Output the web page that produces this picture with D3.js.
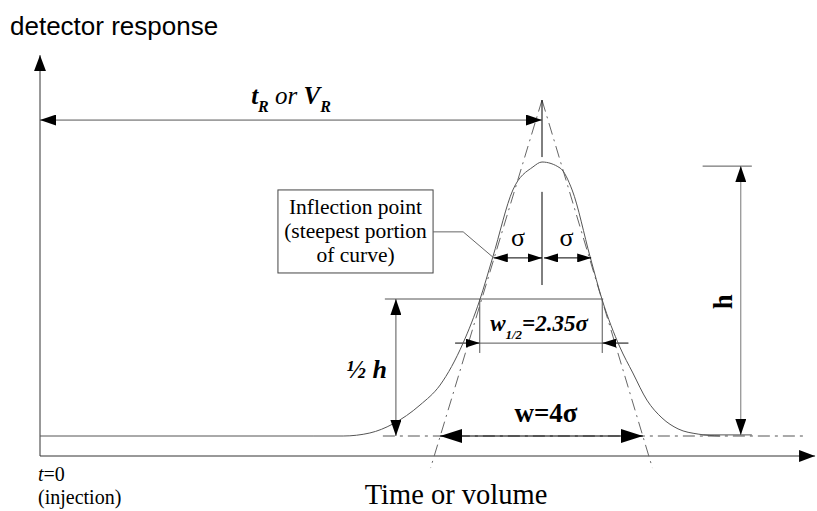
<!DOCTYPE html>
<html>
<head>
<meta charset="utf-8">
<script src="https://cdn.jsdelivr.net/npm/d3@7"></script>
<style>
  body { margin: 0; background: #fff; }
  text { fill: #000; }
</style>
</head>
<body>
<div id="chart"></div>
<script>
const width = 817;
const height = 511;

// peak profile: time (sigma units, tR = 10) and response (fraction of h)
const curveT = [0, 5.44, 6.04, 6.57, 7.03, 7.57, 7.97, 8.43, 8.76, 9.02, 9.42, 9.82, 10, 10.36, 10.6, 10.96, 11.2, 11.55, 11.81, 12.09, 12.39, 12.71, 13.11, 13.55];
const curveR = [0, 0, 0, 0.011, 0.044, 0.113, 0.186, 0.34, 0.496, 0.653, 0.898, 0.982, 1, 0.978, 0.898, 0.653, 0.496, 0.325, 0.23, 0.131, 0.066, 0.026, 0.007, 0];

// annotation values
const retentionT = [0, 10];
const retentionLevel = 1.153;
const sigmaT = [9.04, 10, 10.98];
const sigmaLevel = 0.65;
const halfWidthT = [8.76, 11.2];
const halfWidthArrowT = [8.27, 11.72];
const halfWidthLevels = [0.5, 0.303, 0.339];
const halfLineT = [6.87, 11.22];
const halfHeightT = 7.09;
const baseWidthT = [7.97, 12.01];
const baselineT = [6.83, 15.24];
const heightT = 13.96;
const heightTickT = [13.2, 14.18];
const heightR = [0.004, 0.985];
const tangentLeft = [[10, 1.226], [7.78, -0.117]];
const tangentRight = [[10, 1.226], [12.2, -0.117]];
const centerSegments = [[1.226, 1.018], [0.891, 0.551]];
const axisT = [0, 15.44];
const axisR = [-0.073, 1.39];
const boxT = [4.74, 7.83];
const boxR = [0.595, 0.898];
const leader = [[7.83, 0.745], [8.43, 0.745], [9.04, 0.65]];
const boxLines = ['Inflection point', '(steepest portion', 'of curve)'];

const x = d3.scaleLinear().domain([0, 10]).range([40, 542]);
const y = d3.scaleLinear().domain([0, 1]).range([436, 162]);

const svg = d3.select('#chart')
  .append('svg')
  .attr('width', width)
  .attr('height', height);

const defs = svg.append('defs');
function marker(id, len, wid) {
  defs.append('marker')
    .attr('id', id)
    .attr('viewBox', '0 0 10 10')
    .attr('refX', 10)
    .attr('refY', 5)
    .attr('markerUnits', 'userSpaceOnUse')
    .attr('markerWidth', len)
    .attr('markerHeight', wid)
    .attr('preserveAspectRatio', 'none')
    .attr('orient', 'auto-start-reverse')
    .append('path')
    .attr('d', 'M0,0L10,5L0,10Z')
    .attr('fill', '#000');
}
marker('big', 22, 14);
marker('mid', 16, 11);
marker('small', 14, 9);
marker('axis', 16, 12);

const serif = 'Liberation Serif, Times New Roman, serif';
const line = (x1, y1, x2, y2, color, w) => svg.append('line')
  .attr('x1', x1).attr('y1', y1).attr('x2', x2).attr('y2', y2)
  .attr('stroke', color).attr('stroke-width', w || 1);

// axes
line(x(axisT[0]), y(axisR[0]), x(axisT[0]), y(axisR[1]), '#333').attr('marker-end', 'url(#axis)');
line(x(axisT[0]), y(axisR[0]), x(axisT[1]), y(axisR[0]), '#333').attr('marker-end', 'url(#axis)');

// baseline extension (dash-dot)
line(x(baselineT[0]), y(0), x(baselineT[1]), y(0), '#555').attr('stroke-dasharray', '12,5,3,5');

// tangents
const pathLine = d3.line().x(d => x(d[0])).y(d => y(d[1]));
[tangentLeft, tangentRight].forEach(seg => {
  svg.append('path')
    .attr('d', pathLine(seg))
    .attr('fill', 'none')
    .attr('stroke', '#666')
    .attr('stroke-dasharray', '12,5,2,5');
});

// peak
svg.append('path')
  .datum(d3.zip(curveT, curveR))
  .attr('d', d3.line().x(d => x(d[0])).y(d => y(d[1])).curve(d3.curveMonotoneX))
  .attr('fill', 'none')
  .attr('stroke', '#555')
  .attr('stroke-width', 1);

// center line
centerSegments.forEach(s => line(x(10), y(s[0]), x(10), y(s[1]), '#000'));

// retention arrow
line(x(retentionT[0]), y(retentionLevel), x(retentionT[1]), y(retentionLevel), '#555')
  .attr('marker-start', 'url(#mid)').attr('marker-end', 'url(#mid)');
const tr = svg.append('text')
  .attr('x', 291).attr('y', 104)
  .attr('text-anchor', 'middle')
  .attr('font-family', serif)
  .attr('font-size', 25);
tr.append('tspan').attr('font-weight', 'bold').attr('font-style', 'italic').text('t');
tr.append('tspan').attr('font-weight', 'bold').attr('font-style', 'italic').attr('font-size', 16).attr('dy', 8).text('R');
tr.append('tspan').attr('font-style', 'italic').attr('dy', -8).text(' or ');
tr.append('tspan').attr('font-weight', 'bold').attr('font-style', 'italic').text('V');
tr.append('tspan').attr('font-weight', 'bold').attr('font-style', 'italic').attr('font-size', 16).attr('dy', 8).text('R');

// sigma arrows
line(x(sigmaT[0]), y(sigmaLevel), x(sigmaT[1]), y(sigmaLevel), '#000')
  .attr('marker-start', 'url(#small)').attr('marker-end', 'url(#small)');
line(x(sigmaT[1]) + 2, y(sigmaLevel), x(sigmaT[2]), y(sigmaLevel), '#000')
  .attr('marker-start', 'url(#small)').attr('marker-end', 'url(#small)');
[0, 1].forEach(i => svg.append('text')
  .attr('x', (x(sigmaT[i]) + x(sigmaT[i + 1])) / 2)
  .attr('y', y(sigmaLevel) - 12)
  .attr('text-anchor', 'middle')
  .attr('font-family', serif)
  .attr('font-size', 26)
  .text('σ'));

// inflection point box
svg.append('rect')
  .attr('x', x(boxT[0])).attr('y', y(boxR[1]))
  .attr('width', x(boxT[1]) - x(boxT[0]))
  .attr('height', y(boxR[0]) - y(boxR[1]))
  .attr('fill', '#fff').attr('stroke', '#444');
boxLines.forEach((t, i) => svg.append('text')
  .attr('x', (x(boxT[0]) + x(boxT[1])) / 2)
  .attr('y', y(boxR[1]) + 24 + i * 24)
  .attr('text-anchor', 'middle')
  .attr('font-family', serif)
  .attr('font-size', 21.5)
  .text(t));
svg.append('path')
  .attr('d', pathLine(leader))
  .attr('fill', 'none').attr('stroke', '#666');

// half height line and w1/2
line(x(halfLineT[0]), y(halfWidthLevels[0]), x(halfLineT[1]), y(halfWidthLevels[0]), '#555');
halfWidthT.forEach(t => line(x(t), y(halfWidthLevels[0]), x(t), y(halfWidthLevels[1]), '#555'));
line(x(halfWidthArrowT[0]), y(halfWidthLevels[2]), x(halfWidthArrowT[1]), y(halfWidthLevels[2]), '#555');
line(x(halfWidthArrowT[0]), y(halfWidthLevels[2]), x(halfWidthT[0]), y(halfWidthLevels[2]), '#555').attr('marker-end', 'url(#small)');
line(x(halfWidthArrowT[1]), y(halfWidthLevels[2]), x(halfWidthT[1]), y(halfWidthLevels[2]), '#555').attr('marker-end', 'url(#small)');
const wh = svg.append('text')
  .attr('x', (x(halfWidthT[0]) + x(halfWidthT[1])) / 2 - 2)
  .attr('y', 331)
  .attr('text-anchor', 'middle')
  .attr('font-family', serif)
  .attr('font-weight', 'bold')
  .attr('font-style', 'italic')
  .attr('font-size', 23);
wh.append('tspan').text('w');
wh.append('tspan').attr('font-size', 13).attr('dy', 8).text('1/2');
wh.append('tspan').attr('dy', -8).text('=2.35σ');

// half height arrow
line(x(halfHeightT), y(0.5), x(halfHeightT), y(0), '#555')
  .attr('marker-start', 'url(#mid)').attr('marker-end', 'url(#mid)');
svg.append('text')
  .attr('x', x(halfHeightT) - 9).attr('y', 378)
  .attr('text-anchor', 'end')
  .attr('font-family', serif)
  .attr('font-weight', 'bold')
  .attr('font-style', 'italic')
  .attr('font-size', 26)
  .text('½ h');

// base width arrow
line(x(baseWidthT[0]), y(0), x(baseWidthT[1]), y(0), '#000')
  .attr('marker-start', 'url(#big)').attr('marker-end', 'url(#big)');
svg.append('text')
  .attr('x', 546).attr('y', 422)
  .attr('text-anchor', 'middle')
  .attr('font-family', serif)
  .attr('font-weight', 'bold')
  .attr('font-size', 27)
  .text('w=4σ');

// height arrow
heightR.forEach(r => line(x(heightTickT[0]), y(r), x(heightTickT[1]), y(r), '#555'));
line(x(heightT), y(heightR[0]), x(heightT), y(heightR[1]), '#777')
  .attr('marker-start', 'url(#mid)').attr('marker-end', 'url(#mid)');
svg.append('text')
  .attr('transform', `translate(${x(heightT) - 9},${y(0.49)}) rotate(-90)`)
  .attr('text-anchor', 'middle')
  .attr('font-family', serif)
  .attr('font-weight', 'bold')
  .attr('font-size', 27)
  .text('h');

// axis labels
svg.append('text')
  .attr('x', 10).attr('y', 35)
  .attr('font-family', 'Liberation Sans, Arial, sans-serif')
  .attr('font-size', 26)
  .text('detector response');
const t0 = svg.append('text')
  .attr('x', 38).attr('y', 481)
  .attr('font-family', serif)
  .attr('font-size', 20);
t0.append('tspan').attr('font-style', 'italic').text('t');
t0.append('tspan').text('=0');
svg.append('text')
  .attr('x', 38).attr('y', 504)
  .attr('font-family', serif)
  .attr('font-size', 20)
  .text('(injection)');
svg.append('text')
  .attr('x', 456).attr('y', 504)
  .attr('text-anchor', 'middle')
  .attr('font-family', serif)
  .attr('font-size', 28.5)
  .text('Time or volume');
</script>
</body>
</html>
